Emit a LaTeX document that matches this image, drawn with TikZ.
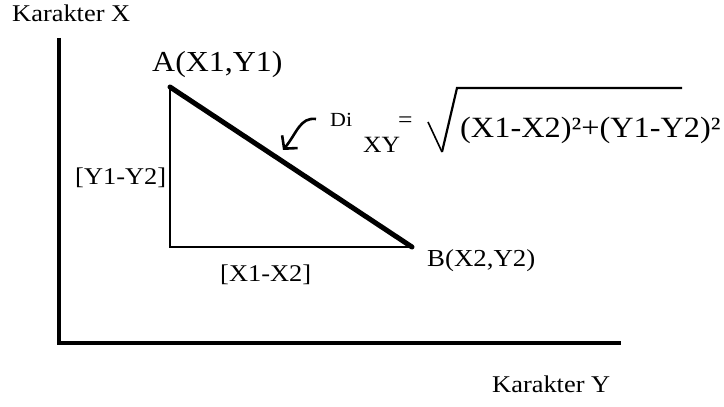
\documentclass[tikz,border=0pt]{standalone}
\usepackage{fontspec}
\setmainfont{Liberation Serif}
\usetikzlibrary{arrows.meta}
\begin{document}
\begin{tikzpicture}[x=1pt,y=1pt,
  lbl/.style={inner sep=0pt, anchor=base west, xscale=1.1, transform shape},
  axisline/.style={line width=4pt},
  thinleg/.style={line width=2pt},
  hyp/.style={line width=5pt, line cap=round},
  pointer/.style={line width=2.6pt, -{Straight Barb[length=9pt,width=20pt,line width=2.6pt]}}]
\useasboundingbox (0,0) rectangle (724,407);
% axes
\coordinate (ytop) at (59,369);
\coordinate (origin) at (59,64);
\coordinate (xend) at (621,64);
\draw[axisline] (ytop) -- (origin) -- (xend);
% triangle
\coordinate (A) at (170,320);
\coordinate (C) at (170,160);
\coordinate (B) at (412,160);
\draw[thinleg] (A) -- (C) -- (B);
\draw[hyp] (A) -- (B);
% labels
\node[lbl, font=\fontsize{24}{28}\selectfont] (kx) at (12,385) {Karakter X};
\node[lbl, font=\fontsize{24}{28}\selectfont] (ky) at (492,14) {Karakter Y};
\node[lbl, font=\fontsize{29}{34}\selectfont] (la) at (152,335) {A(X1,Y1)};
\node[lbl, font=\fontsize{24.4}{28}\selectfont] (lb) at (427,140) {B(X2,Y2)};
\node[lbl, font=\fontsize{24}{28}\selectfont] (dx) at (220,125) {[X1-X2]};
\node[lbl, font=\fontsize{24}{28}\selectfont] (dy) at (75,222) {[Y1-Y2]};
% pointer arrow
\coordinate (ps) at (316,288);
\coordinate (pt) at (283,257);
\draw[pointer] (ps) .. controls (300,290) and (297,274) .. (pt);
% formula
\node[lbl, font=\fontsize{20}{24}\selectfont] (di) at (330,280) {Di};
\node[lbl, font=\fontsize{23.3}{27}\selectfont] (xy) at (363,254) {XY};
\node[lbl, font=\fontsize{23.3}{27}\selectfont] (eq) at (398,279) {=};
\coordinate (s1) at (428,285);
\coordinate (s2) at (442,255);
\coordinate (s3) at (457,319);
\coordinate (s4) at (682,319);
\draw[line width=1.6pt, line join=miter] (s1) -- (s2);
\draw[line width=2.2pt, line join=miter] (s2) -- (s3) -- (s4);
\node[lbl, font=\fontsize{29.4}{34}\selectfont] (rad) at (460,269) {(X1-X2)²+(Y1-Y2)²};
\end{tikzpicture}
\end{document}
